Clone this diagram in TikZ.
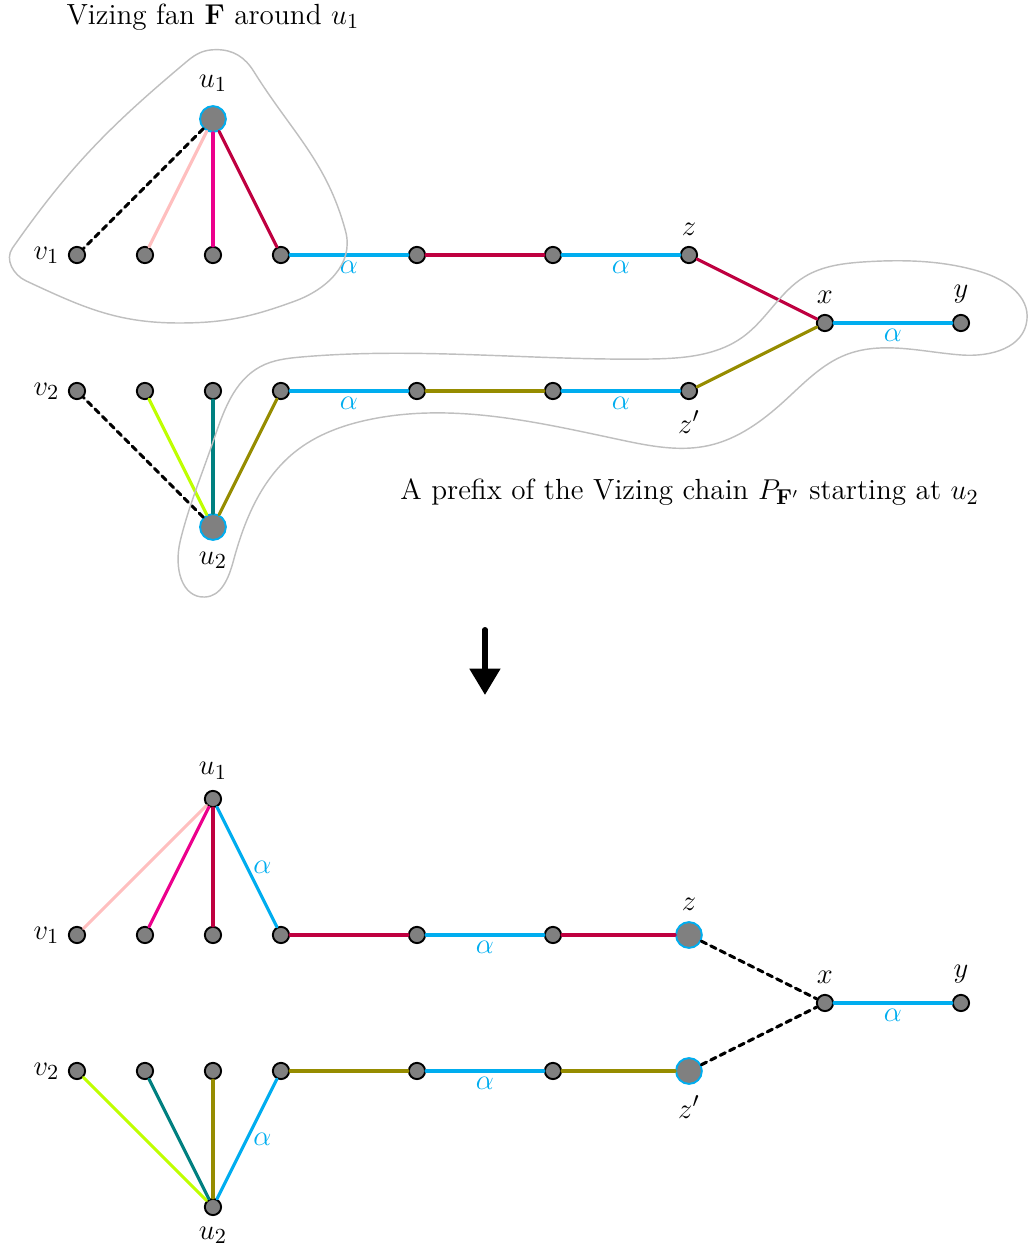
\documentclass[tikz,border=0pt]{standalone}
\usetikzlibrary{arrows.meta,hobby}
\definecolor{chainolive}{RGB}{150,140,0}
\begin{document}
\begin{tikzpicture}[line join=round, line cap=round, >=Stealth,
    every node/.style={font=\fontsize{12.2pt}{14pt}\selectfont},
    vtx/.style={circle, draw=black, line width=0.8pt, fill=gray, inner sep=0pt, minimum size=6.8pt},
    bigvtx/.style={vtx, draw=cyan, minimum size=10.8pt},
    edge/.style={line width=1.3pt},
    uncol/.style={edge, black, dash pattern=on 2.4pt off 2pt},
    al/.style={text=cyan, inner sep=2pt},
    blob/.style={lightgray, line width=0.6pt}]
  \useasboundingbox (-1.132,-14.618) rectangle (14.015,3.75);

  % before: fan around u1 and the chain from u2
  \node[bigvtx, label={[label distance=2pt]above:$u_1$}] (u1) at (2,2) {};
  \node[vtx, label=left:$v_1$] (v1) at (0,0) {};
  \node[vtx] (b1) at (1,0) {};
  \node[vtx] (c1) at (2,0) {};
  \node[vtx] (d1) at (3,0) {};
  \node[vtx] (p1) at (5,0) {};
  \node[vtx] (q1) at (7,0) {};
  \node[vtx, label={[label distance=1pt]above:$z$}] (z) at (9,0) {};
  \node[vtx, label={[label distance=1pt]above:$x$}] (x) at (11,-1) {};
  \node[vtx, label={[label distance=1pt]above:$y$}] (y) at (13,-1) {};
  \node[vtx, label=left:$v_2$] (v2) at (0,-2) {};
  \node[vtx] (b2) at (1,-2) {};
  \node[vtx] (c2) at (2,-2) {};
  \node[vtx] (d2) at (3,-2) {};
  \node[vtx] (p2) at (5,-2) {};
  \node[vtx] (q2) at (7,-2) {};
  \node[vtx, label={[label distance=1pt]below:$z'$}] (zp) at (9,-2) {};
  \node[bigvtx, label={[label distance=1pt]below:$u_2$}] (u2) at (2,-4) {};

  \draw[uncol] (u1) -- (v1);
  \draw[edge, pink] (u1) -- (b1);
  \draw[edge, magenta] (u1) -- (c1);
  \draw[edge, purple] (u1) -- (d1);
  \draw[edge, cyan] (d1) -- node[below, al] {$\alpha$} (p1);
  \draw[edge, purple] (p1) -- (q1);
  \draw[edge, cyan] (q1) -- node[below, al] {$\alpha$} (z);
  \draw[edge, purple] (z) -- (x);
  \draw[edge, cyan] (x) -- node[below, al] {$\alpha$} (y);
  \draw[uncol] (u2) -- (v2);
  \draw[edge, lime] (u2) -- (b2);
  \draw[edge, teal] (u2) -- (c2);
  \draw[edge, chainolive] (u2) -- (d2);
  \draw[edge, cyan] (d2) -- node[below, al] {$\alpha$} (p2);
  \draw[edge, chainolive] (p2) -- (q2);
  \draw[edge, cyan] (q2) -- node[below, al] {$\alpha$} (zp);
  \draw[edge, chainolive] (zp) -- (x);

  \draw[blob] (-0.95,0.1) to[out=55,in=-140] (1.62,2.85) to[out=40,in=180] (2.05,3.02) to[out=0,in=122] (2.6,2.7) to[out=-58,in=105] (3.95,0.35) to[out=-75,in=20] (3.2,-0.68) to[out=200,in=0] (1.5,-1.0) to[out=180,in=-25] (-0.75,-0.38) to[out=155,in=-125] cycle;
  \draw[blob, use Hobby shortcut, closed=true] (1.88,-5.03) .. (1.52,-4.2) .. (2.0,-2.75) .. (2.7,-1.64) .. (3.3,-1.5) .. (8.4,-1.53) .. (9.8,-1.2) .. (10.7,-0.32) .. (11.6,-0.1) .. (13.3,-0.25) .. (13.97,-0.96) .. (13.0,-1.47) .. (11.3,-1.47) .. (10.4,-2.15) .. (9.3,-2.8) .. (8.0,-2.72) .. (4.3,-2.42) .. (3.2,-2.9) .. (2.3,-4.5);

  \node (fantext) at (2.0,3.50) {Vizing fan $\mathbf{F}$ around $u_1$};
  \node (chaintext) at (9.01,-3.49) {A prefix of the Vizing chain $P_{\mathbf{F}'}$ starting at $u_2$};

  % the step
  \coordinate (arrtop) at (6,-5.51);
  \coordinate (arrbot) at (6,-6.47);
  \draw[line width=2.2pt, -{Triangle[length=11pt, width=12.5pt]}] (arrtop) -- (arrbot);

  % after: the fan is shifted and the chain flipped
  \node[vtx, label={[label distance=1pt]above:$u_1$}] (U1) at (2,-8) {};
  \node[vtx, label=left:$v_1$] (V1) at (0,-10) {};
  \node[vtx] (B1) at (1,-10) {};
  \node[vtx] (C1) at (2,-10) {};
  \node[vtx] (D1) at (3,-10) {};
  \node[vtx] (P1) at (5,-10) {};
  \node[vtx] (Q1) at (7,-10) {};
  \node[bigvtx, label={[label distance=1pt]above:$z$}] (Z) at (9,-10) {};
  \node[vtx, label={[label distance=1pt]above:$x$}] (X) at (11,-11) {};
  \node[vtx, label={[label distance=1pt]above:$y$}] (Y) at (13,-11) {};
  \node[vtx, label=left:$v_2$] (V2) at (0,-12) {};
  \node[vtx] (B2) at (1,-12) {};
  \node[vtx] (C2) at (2,-12) {};
  \node[vtx] (D2) at (3,-12) {};
  \node[vtx] (P2) at (5,-12) {};
  \node[vtx] (Q2) at (7,-12) {};
  \node[bigvtx, label={[label distance=1pt]below:$z'$}] (ZP) at (9,-12) {};
  \node[vtx, label={[label distance=1pt]below:$u_2$}] (U2) at (2,-14) {};

  \draw[edge, pink] (U1) -- (V1);
  \draw[edge, magenta] (U1) -- (B1);
  \draw[edge, purple] (U1) -- (C1);
  \draw[edge, cyan] (U1) -- node[right, al] {$\alpha$} (D1);
  \draw[edge, purple] (D1) -- (P1);
  \draw[edge, cyan] (P1) -- node[below, al] {$\alpha$} (Q1);
  \draw[edge, purple] (Q1) -- (Z);
  \draw[uncol] (Z) -- (X);
  \draw[edge, cyan] (X) -- node[below, al] {$\alpha$} (Y);
  \draw[edge, lime] (U2) -- (V2);
  \draw[edge, teal] (U2) -- (B2);
  \draw[edge, chainolive] (U2) -- (C2);
  \draw[edge, cyan] (U2) -- node[right, al] {$\alpha$} (D2);
  \draw[edge, chainolive] (D2) -- (P2);
  \draw[edge, cyan] (P2) -- node[below, al] {$\alpha$} (Q2);
  \draw[edge, chainolive] (Q2) -- (ZP);
  \draw[uncol] (ZP) -- (X);
\end{tikzpicture}
\end{document}
